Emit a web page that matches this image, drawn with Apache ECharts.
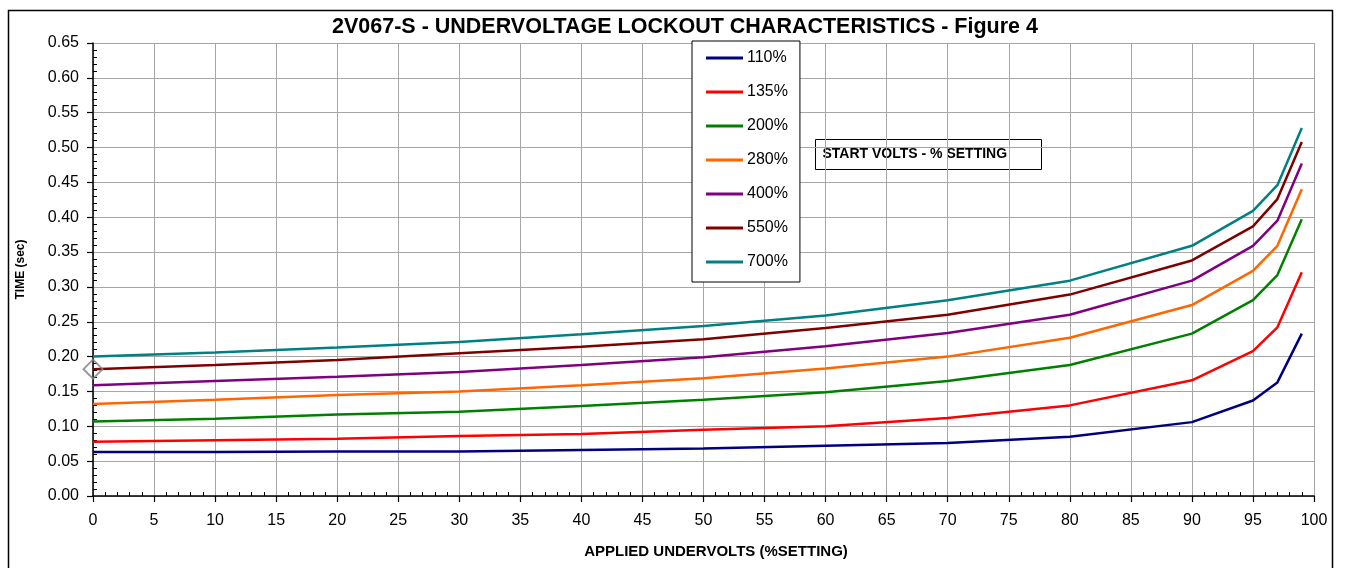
<!DOCTYPE html>
<html>
<head>
<meta charset="utf-8">
<script src="https://cdn.jsdelivr.net/npm/echarts@6/dist/echarts.min.js"></script>
<style>
html,body{margin:0;padding:0;background:#fff;}
#chart{width:1348px;height:568px;}
</style>
</head>
<body>
<div id="chart"></div>
<script>
var xValues = [0, 10, 20, 30, 40, 50, 60, 70, 80, 90, 95, 97, 99];
var seriesNames = ['110%', '135%', '200%', '280%', '400%', '550%', '700%'];
var s110 = [0.063, 0.063, 0.064, 0.064, 0.066, 0.068, 0.072, 0.076, 0.085, 0.106, 0.137, 0.163, 0.233];
var s135 = [0.078, 0.080, 0.082, 0.086, 0.089, 0.095, 0.100, 0.112, 0.130, 0.166, 0.208, 0.242, 0.321];
var s200 = [0.107, 0.111, 0.117, 0.121, 0.129, 0.138, 0.149, 0.165, 0.188, 0.233, 0.281, 0.317, 0.397];
var s280 = [0.132, 0.138, 0.145, 0.150, 0.159, 0.169, 0.183, 0.200, 0.227, 0.274, 0.323, 0.359, 0.440];
var s400 = [0.159, 0.165, 0.171, 0.178, 0.188, 0.199, 0.215, 0.234, 0.260, 0.309, 0.359, 0.395, 0.477];
var s550 = [0.182, 0.188, 0.195, 0.205, 0.214, 0.225, 0.241, 0.260, 0.289, 0.338, 0.387, 0.426, 0.508];
var s700 = [0.200, 0.206, 0.213, 0.221, 0.232, 0.244, 0.259, 0.281, 0.309, 0.359, 0.409, 0.446, 0.528];
var seriesColors = ['#000080', '#ff0000', '#008000', '#ff6600', '#800080', '#800000', '#008080'];
var markerPoint = [[0, 0.182]];

function pairs(ys) { return xValues.map(function (x, i) { return [x, ys[i]]; }); }
var allY = [s110, s135, s200, s280, s400, s550, s700];

var series = allY.map(function (ys, i) {
  return {
    name: seriesNames[i], type: 'line', data: pairs(ys), symbol: 'none',
    lineStyle: { color: seriesColors[i], width: 2.5 }, itemStyle: { color: seriesColors[i] },
    emphasis: { disabled: true }, z: 3 + i
  };
});
series.push({
  name: 'marker', type: 'scatter', data: markerPoint, symbol: 'diamond', symbolSize: 19,
  itemStyle: { color: 'rgba(0,0,0,0)', borderColor: '#808080', borderWidth: 2 }, z: 20, silent: true
});

var chart = echarts.init(document.getElementById('chart'), null, { renderer: 'canvas' });
var font = '"Liberation Sans", Arial, sans-serif';
chart.setOption({
  animation: false,
  backgroundColor: '#fff',
  textStyle: { fontFamily: font },
  grid: { left: 93, right: 34, top: 43, bottom: 72, containLabel: false },
  xAxis: {
    type: 'value', min: 0, max: 100, interval: 5,
    axisLine: { show: true, onZero: false, lineStyle: { color: '#000', width: 1.5 } },
    axisTick: { show: true, length: 6, lineStyle: { color: '#000', width: 1.2 } },
    minorTick: { show: true, splitNumber: 5, length: -4, lineStyle: { color: '#000', width: 1 } },
    splitLine: { show: true, lineStyle: { color: '#a6a6a6', width: 1 } },
    axisLabel: { color: '#000', fontSize: 16, margin: 17, fontFamily: font }
  },
  yAxis: {
    type: 'value', min: 0, max: 0.65, interval: 0.05,
    name: 'TIME (sec)', nameLocation: 'middle', nameRotate: 90, nameGap: 66,
    nameTextStyle: { color: '#000', fontSize: 12, fontWeight: 'bold', fontFamily: font },
    axisLine: { show: true, onZero: false, lineStyle: { color: '#000', width: 1.5 } },
    axisTick: { show: true, length: 6, lineStyle: { color: '#000', width: 1.2 } },
    minorTick: { show: true, splitNumber: 5, length: -4, lineStyle: { color: '#000', width: 1 } },
    splitLine: { show: true, lineStyle: { color: '#a6a6a6', width: 1 } },
    axisLabel: { color: '#000', fontSize: 16, margin: 14, fontFamily: font,
      formatter: function (v) { return v.toFixed(2); } }
  },
  legend: {
    data: seriesNames, orient: 'vertical', left: 692, top: 41,
    padding: [9, 12, 12, 14], itemGap: 18, itemWidth: 37, itemHeight: 3, icon: 'rect',
    backgroundColor: '#fff', borderColor: '#000', borderWidth: 1, borderRadius: 0,
    selectedMode: false,
    textStyle: { color: '#000', fontSize: 16, lineHeight: 16, fontFamily: font, padding: [0, 0, 0, -1] }
  },
  graphic: [
    { type: 'rect', left: 6, top: 8, shape: { width: 1324, height: 580 }, silent: true,
      style: { fill: 'none', stroke: '#000', lineWidth: 1.5 }, z: -1 },
    { type: 'text', x: 685, y: 16, silent: true,
      style: { text: '2V067-S - UNDERVOLTAGE LOCKOUT CHARACTERISTICS - Figure 4', fill: '#000',
        font: 'bold 21.5px ' + font, textAlign: 'center', textVerticalAlign: 'top' } },
    { type: 'text', x: 716, y: 544, silent: true,
      style: { text: 'APPLIED UNDERVOLTS (%SETTING)', fill: '#000',
        font: 'bold 15px ' + font, textAlign: 'center', textVerticalAlign: 'top' } },
    { type: 'group', left: 815, top: 139, z: 50, children: [
      { type: 'rect', shape: { x: 0, y: 0, width: 226, height: 30 },
        style: { fill: '#fff', stroke: '#000', lineWidth: 1 } },
      { type: 'text', x: 7, y: 15,
        style: { text: 'START VOLTS - % SETTING', fill: '#000', font: 'bold 14px ' + font,
          textVerticalAlign: 'middle' } }
    ] }
  ],
  series: series
});
</script>
</body>
</html>
